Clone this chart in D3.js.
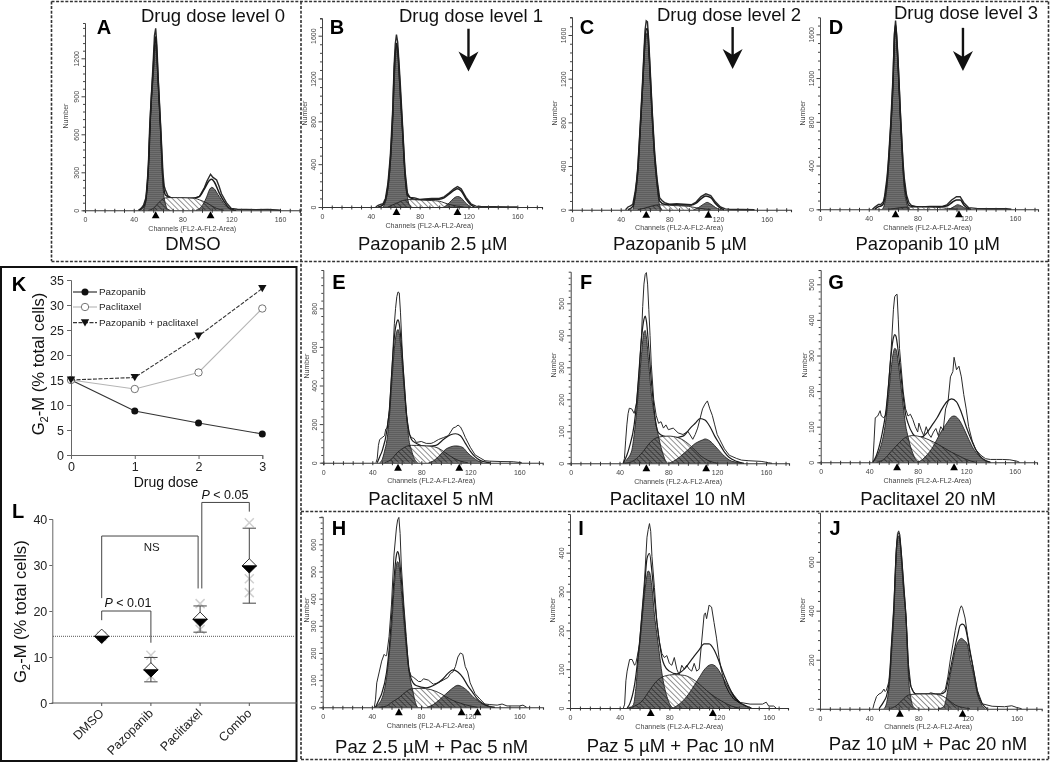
<!DOCTYPE html>
<html>
<head>
<meta charset="utf-8">
<script src="https://cdn.jsdelivr.net/npm/d3@7/dist/d3.min.js"></script>
<style>
html,body{margin:0;padding:0;background:#fff;}
svg{display:block;filter:blur(0.35px);}
text{font-family:"Liberation Sans",Arial,sans-serif;}
</style>
</head>
<body>
<svg id="fig" width="1050" height="762"></svg>
<script>
// ---------- flow cytometry histograms: [channel, number] ----------
const rawA=[[44,0],[46,15],[48,40],[50,100],[51,210],[52,360],[53,640],[54,830],[56,1180],[57,1380],[58,1436],[59,1300],[60,1060],[62,680],[64,290],[65,190],[66,160],[68,115],[72,90],[76,85],[80,95],[84,90],[90,95],[94,110],[98,180],[100,230],[103,285],[105,260],[108,240],[110,190],[112,130],[116,60],[120,15],[125,8],[140,5],[150,6],[158,2],[160,0]];
const modelA=[[44,0],[48,25],[50,90],[52,340],[54,810],[56,1120],[57,1290],[58,1370],[59,1230],[60,1030],[62,650],[64,240],[66,120],[70,100],[76,95],[84,95],[90,98],[94,110],[98,170],[102,235],[104,245],[106,225],[110,140],[114,70],[118,20],[122,3],[124,0]];
const g1A=[[47,0],[49,30],[50,80],[51,190],[52,330],[53,600],[54,780],[56,1060],[57,1200],[58,1310],[59,1180],[60,1000],[62,620],[64,190],[66,50],[68,8],[70,0]];
const sA=[[52,0],[56,15],[60,55],[64,90],[68,100],[76,100],[84,98],[90,95],[94,82],[100,58],[104,35],[108,15],[114,0]];
const g2A=[[91,0],[94,15],[97,50],[100,110],[102,160],[104,181],[106,170],[109,125],[112,80],[116,30],[120,5],[122,0]];

const rawB=[[44,0],[46,15],[48,25],[50,30],[52,80],[54,220],[56,480],[58,930],[59,1300],[60,1520],[61,1610],[62,1540],[64,1180],[66,760],[68,340],[70,130],[72,90],[76,85],[80,70],[84,75],[90,80],[96,80],[100,95],[104,130],[108,170],[111,190],[114,170],[118,90],[122,30],[126,8],[130,5],[140,3],[160,0]];
const modelB=[[46,0],[50,20],[52,65],[54,190],[56,440],[58,870],[59,1230],[60,1430],[61,1530],[62,1470],[64,1100],[66,720],[68,310],[70,110],[74,78],[80,65],[90,70],[96,72],[100,85],[104,120],[108,155],[111,170],[114,150],[118,75],[122,20],[125,0]];
const g1B=[[50,0],[52,50],[54,170],[56,400],[58,820],[60,1350],[61,1500],[62,1450],[64,1050],[66,680],[68,300],[70,90],[72,10],[73,0]];
const sB=[[54,0],[58,20],[62,40],[66,60],[72,70],[80,65],[90,60],[96,55],[100,40],[104,25],[110,10],[116,0]];
const g2B=[[100,0],[103,25],[106,60],[109,90],[111,98],[114,85],[117,45],[120,15],[122,0]];

const rawC=[[44,0],[46,25],[48,35],[50,50],[52,170],[53,260],[54,380],[56,760],[58,1180],[60,1640],[61,1730],[62,1720],[63,1560],[64,1340],[66,890],[68,510],[70,270],[72,110],[74,85],[76,65],[80,50],[86,55],[92,50],[98,45],[102,70],[106,120],[110,145],[114,130],[118,70],[122,25],[126,8],[130,3],[140,2],[150,0]];
const modelC=[[46,0],[50,30],[52,145],[53,235],[54,350],[56,730],[58,1130],[60,1560],[61,1650],[62,1660],[63,1510],[64,1290],[66,850],[68,480],[70,240],[72,80],[76,50],[84,45],[92,42],[98,42],[102,60],[106,100],[110,125],[114,110],[118,55],[122,15],[125,0]];
const g1C=[[50,0],[52,120],[53,210],[54,320],[56,700],[58,1100],[60,1500],[61,1600],[62,1620],[63,1480],[64,1250],[66,810],[68,450],[70,210],[72,40],[74,0]];
const sC=[[54,0],[60,15],[66,35],[72,45],[80,40],[90,35],[96,30],[102,18],[110,5],[114,0]];
const g2C=[[100,0],[104,20],[108,50],[111,67],[114,52],[118,20],[121,5],[123,0]];

const rawD=[[43,0],[45,20],[48,45],[50,45],[52,70],[53,120],[55,290],[56,420],[58,780],[60,1240],[61,1600],[62,1725],[63,1580],[64,1380],[66,880],[68,450],[69,300],[71,130],[73,60],[75,35],[80,20],[90,25],[100,25],[104,40],[108,85],[112,115],[115,115],[118,60],[122,15],[128,8],[140,5],[153,5],[157,0]];
const modelD=[[45,0],[48,25],[50,30],[52,50],[53,90],[55,250],[56,390],[58,740],[60,1200],[61,1560],[62,1690],[63,1550],[64,1350],[66,850],[68,420],[69,260],[71,100],[73,35],[76,25],[84,22],[96,22],[104,30],[108,60],[112,85],[115,85],[118,40],[122,5],[124,0]];
const g1D=[[51,0],[53,50],[55,210],[56,350],[58,700],[60,1150],[61,1520],[62,1650],[63,1500],[64,1300],[66,810],[68,380],[69,210],[71,60],[73,10],[74,0]];
const sD=[[56,0],[64,12],[72,20],[85,20],[95,18],[104,10],[112,0]];
const g2D=[[106,0],[110,25],[113,42],[116,30],[120,5],[122,0]];

const rawE=[[43,0],[44,20],[45,90],[46,120],[48,130],[50,140],[51,175],[52,180],[54,270],[56,480],[58,720],[59,800],[60,860],[61,885],[62,880],[63,780],[64,640],[65,510],[66,410],[68,240],[70,150],[72,130],[74,125],[76,105],[80,110],[84,100],[88,100],[90,105],[94,120],[98,130],[102,140],[106,180],[108,185],[110,195],[112,185],[114,160],[116,130],[120,80],[124,40],[128,25],[132,10],[136,8],[145,6],[155,5],[162,0]];
const modelE=[[44,0],[46,30],[48,60],[52,170],[54,280],[56,480],[58,650],[60,730],[61,740],[62,720],[64,590],[66,420],[68,250],[70,160],[72,120],[76,100],[84,85],[92,90],[98,120],[104,145],[108,150],[112,140],[116,100],[120,60],[124,30],[128,12],[132,4],[136,0]];
const g1E=[[46,0],[48,15],[50,60],[52,120],[54,240],[56,420],[58,590],[60,680],[61,690],[62,670],[64,540],[66,380],[68,240],[70,115],[72,65],[74,25],[76,5],[77,0]];
const sE=[[50,0],[56,20],[60,50],[64,70],[68,85],[72,90],[80,88],[88,85],[94,75],[100,50],[106,25],[112,8],[118,0]];
const g2E=[[86,0],[88,3],[92,20],[96,45],[100,70],[104,82],[108,87],[110,86],[114,78],[118,50],[122,28],[126,10],[130,0]];

const rawF=[[43,0],[44,15],[45,70],[46,120],[47,155],[48,172],[50,170],[52,156],[54,190],[56,280],[58,400],[59,490],[60,560],[61,590],[62,596],[63,560],[64,480],[65,400],[66,310],[68,200],[70,150],[72,125],[74,130],[76,110],[78,120],[80,105],[84,110],[88,95],[92,90],[96,100],[100,75],[102,90],[104,110],[106,140],[108,170],[110,185],[112,195],[114,170],[116,150],[118,120],[120,90],[122,75],[126,45],[130,25],[136,15],[140,10],[146,8],[156,6],[162,2],[165,0]];
const modelF=[[43,0],[46,25],[48,50],[52,120],[54,190],[56,290],[58,390],[60,450],[61,460],[62,445],[64,360],[66,260],[68,180],[70,120],[72,95],[76,85],[84,80],[92,85],[98,110],[102,125],[106,140],[110,135],[114,115],[118,85],[122,60],[126,35],[130,18],[136,6],[142,0]];
const g1F=[[43,0],[46,12],[50,40],[52,90],[54,160],[56,250],[58,340],[60,410],[61,415],[62,395],[64,310],[66,220],[68,165],[70,120],[72,83],[74,50],[76,25],[78,5],[79,0]];
const sF=[[44,0],[50,5],[54,15],[60,40],[64,60],[68,75],[72,82],[80,85],[88,80],[94,68],[100,48],[106,25],[112,10],[120,0]];
const g2F=[[80,0],[84,6],[90,22],[96,42],[102,62],[108,73],[110,76],[114,70],[118,55],[122,38],[126,22],[130,10],[136,3],[140,0]];

const rawG=[[43,0],[44,60],[45,125],[47,130],[49,145],[50,130],[52,125],[54,135],[56,220],[58,310],[60,430],[61,465],[62,470],[63,472],[64,400],[65,320],[66,280],[68,200],[70,150],[72,130],[74,135],[76,120],[78,100],[80,85],[81,110],[83,90],[85,75],[87,100],[89,80],[91,70],[93,85],[95,95],[97,75],[99,100],[101,90],[103,150],[105,170],[107,240],[109,255],[110,295],[112,260],[114,270],[116,240],[118,190],[120,150],[122,100],[125,60],[128,35],[132,20],[136,10],[140,8],[145,8],[150,8],[156,7],[162,3],[164,0]];
const modelG=[[43,0],[46,20],[50,70],[54,150],[56,220],[58,300],[60,350],[61,359],[62,355],[64,310],[66,250],[68,185],[70,135],[72,110],[76,80],[80,70],[84,72],[88,85],[92,105],[96,125],[100,150],[104,170],[108,178],[112,170],[116,140],[120,100],[124,65],[128,35],[132,15],[136,5],[140,0]];
const g1G=[[43,0],[46,15],[50,50],[52,80],[54,125],[56,190],[58,260],[60,310],[61,320],[62,318],[64,280],[66,220],[68,160],[70,105],[72,72],[74,45],[76,25],[78,10],[80,2],[81,0]];
const sG=[[46,0],[52,8],[58,30],[64,52],[70,70],[76,75],[84,70],[90,62],[96,52],[102,40],[108,28],[114,18],[120,8],[128,0]];
const g2G=[[80,0],[84,8],[88,22],[92,40],[96,65],[100,90],[104,110],[108,128],[110,130],[114,120],[118,95],[122,65],[126,38],[130,20],[134,8],[140,0]];

const rawH=[[42,0],[43,30],[44,90],[46,130],[48,170],[50,195],[51,190],[52,190],[54,260],[56,380],[58,560],[60,660],[61,690],[62,699],[63,640],[64,520],[66,380],[68,260],[70,140],[72,115],[74,110],[78,95],[80,95],[82,105],[86,100],[90,85],[94,90],[98,100],[102,110],[104,125],[106,130],[108,150],[110,185],[112,200],[114,195],[116,150],[118,130],[120,90],[124,50],[128,30],[132,12],[136,10],[142,8],[146,12],[150,5],[160,5],[163,8],[166,0]];
const modelH=[[43,0],[46,30],[48,50],[52,130],[54,210],[56,330],[58,470],[60,560],[61,573],[62,560],[64,470],[66,350],[68,240],[70,150],[72,105],[76,80],[84,72],[92,85],[98,105],[102,125],[106,138],[110,130],[114,110],[118,80],[122,55],[126,30],[130,15],[136,3],[140,0]];
const g1H=[[42,0],[46,15],[48,30],[50,60],[52,110],[54,190],[56,290],[58,430],[60,525],[61,536],[62,525],[64,430],[66,320],[68,220],[70,140],[72,85],[73,67],[75,25],[77,0]];
const sH=[[46,0],[52,5],[56,18],[62,35],[68,58],[72,68],[80,70],[88,65],[94,55],[100,40],[106,25],[112,15],[120,5],[126,0]];
const g2H=[[85,0],[90,10],[95,28],[100,48],[105,68],[110,81],[114,74],[118,60],[122,40],[126,25],[130,12],[136,3],[140,0]];

const rawI=[[43,0],[44,10],[45,70],[46,95],[48,125],[50,125],[52,110],[53,115],[54,130],[56,165],[58,250],[60,330],[62,440],[63,460],[64,475],[65,455],[66,390],[68,310],[70,220],[72,170],[74,140],[76,130],[78,135],[80,115],[82,110],[84,130],[86,100],[88,85],[90,110],[92,100],[94,110],[96,100],[98,95],[100,115],[102,95],[104,100],[106,170],[108,240],[109,245],[110,230],[112,265],[114,260],[116,220],[118,180],[120,130],[122,95],[125,60],[128,40],[132,22],[136,15],[145,10],[155,10],[158,15],[160,5],[164,5],[166,0]];
const modelI=[[46,0],[48,10],[52,60],[56,170],[58,240],[60,310],[62,385],[64,398],[66,350],[68,280],[70,220],[72,170],[74,130],[76,110],[80,95],[86,88],[92,100],[98,125],[104,150],[108,165],[112,165],[116,150],[120,120],[124,85],[128,55],[132,30],[136,15],[140,8],[146,0]];
const g1I=[[48,0],[51,8],[53,50],[55,130],[57,190],[59,260],[61,320],[63,353],[64,350],[66,310],[68,240],[70,190],[72,140],[74,90],[76,55],[78,30],[80,12],[83,0]];
const sI=[[46,0],[52,5],[58,18],[64,45],[70,70],[76,82],[84,86],[92,84],[98,76],[104,62],[110,45],[116,30],[122,18],[130,5],[136,0]];
const g2I=[[83,0],[88,10],[92,22],[96,38],[100,58],[104,78],[108,98],[112,110],[114,112],[118,105],[122,85],[126,62],[130,42],[134,25],[138,12],[142,4],[146,0]];

const rawJ=[[43,0],[44,20],[46,50],[48,60],[50,65],[52,80],[53,70],[54,75],[56,110],[57,170],[58,260],[60,420],[62,650],[63,715],[64,726],[65,710],[66,650],[68,520],[70,380],[72,180],[74,90],[76,70],[78,60],[82,60],[88,60],[90,65],[94,60],[98,60],[100,70],[102,80],[104,130],[106,200],[108,260],[110,320],[112,370],[114,410],[115,420],[116,410],[118,370],[120,300],[122,240],[124,185],[126,130],[128,75],[132,20],[140,10],[150,8],[156,12],[160,5],[164,0]];
const modelJ=[[48,0],[52,30],[54,50],[56,100],[57,150],[58,240],[60,400],[62,640],[64,718],[66,640],[68,500],[70,370],[72,160],[74,90],[78,60],[90,60],[98,60],[102,70],[104,110],[108,210],[112,300],[114,340],[116,345],[118,335],[120,290],[122,230],[124,180],[126,125],[128,70],[132,20],[136,0]];
const g1J=[[52,0],[54,20],[56,80],[57,130],[58,210],[60,370],[62,620],[63,690],[64,705],[65,690],[66,620],[68,480],[70,360],[72,130],[74,40],[76,8],[78,0]];
const sJ=[[56,0],[62,12],[66,30],[70,50],[74,58],[82,60],[92,60],[98,55],[102,45],[106,30],[110,15],[116,5],[122,0]];
const g2J=[[96,0],[100,5],[102,25],[104,80],[106,140],[108,190],[110,240],[112,270],[114,285],[115,287],[117,280],[120,260],[122,200],[124,160],[126,110],[128,60],[131,20],[134,0]];

const panelLetters=["A","B","C","D","E","F","G","H","I","J"];
const rawSeries=[rawA,rawB,rawC,rawD,rawE,rawF,rawG,rawH,rawI,rawJ];
const modelSeries=[modelA,modelB,modelC,modelD,modelE,modelF,modelG,modelH,modelI,modelJ];
const g1Series=[g1A,g1B,g1C,g1D,g1E,g1F,g1G,g1H,g1I,g1J];
const sSeries=[sA,sB,sC,sD,sE,sF,sG,sH,sI,sJ];
const g2Series=[g2A,g2B,g2C,g2D,g2E,g2F,g2G,g2H,g2I,g2J];
const peakMarkers=[[58,103],[61,111],[61,112],[62,114],[61,111],[62,111],[63,110],[62,113,126],[65,115],[65,116]];
const yLabelStep=[300,400,400,400,200,100,100,100,100,200];
const yTopLabel=[1200,1600,1600,1600,800,500,500,600,400,600];
const subtitles=["DMSO","Pazopanib 2.5 µM","Pazopanib 5 µM","Pazopanib 10 µM","Paclitaxel 5 nM","Paclitaxel 10 nM","Paclitaxel 20 nM","Paz 2.5 µM + Pac 5 nM","Paz 5 µM + Pac 10 nM","Paz 10 µM + Pac 20 nM"];
const doseTitles=["Drug dose level 0","Drug dose level 1","Drug dose level 2","Drug dose level 3"];
const xTickLabels=[0,40,80,120,160];
// arrows: panel index, channel, tail number, tip number
const arrowPanels=[1,2,3];
const arrowChannels=[120,132,117.3];
const arrowTails=[1665,1673,1659];
const arrowTips=[1265,1288,1265];

// ---------- panel K ----------
const doseLevels=[0,1,2,3];
const kPazopanib=[15,8.8,6.4,4.2];
const kPaclitaxel=[15,13.2,16.5,29.3];
const kCombo=[15,15.5,23.8,33.3];
const kLegend=["Pazopanib","Paclitaxel","Pazopanib + paclitaxel"];
const kYTicks=[0,5,10,15,20,25,30,35];

// ---------- panel L ----------
const lCategories=["DMSO","Pazopanib","Paclitaxel","Combo"];
const lMeans=[14.5,7.2,18.2,29.8];
const lLow=[14.5,4.6,15.4,21.7];
const lHigh=[14.5,9.9,21.1,38];
const lCrosses=[[14.5],[10.4,5.8],[21.6,16],[39.2,27,24],];
const lReference=14.5;
const lYTicks=[0,10,20,30,40];

// ---------- layout only (pixels) ----------
const layout=[
 {x0:85,x160:280,xEnd:300,base:210.3,vRef:1200,yRef:58.3,top:23,nx:66,ny:116,subx:193,suby:243,lx:104,ly:27},
 {x0:322,x160:517.3,xEnd:542,base:207,vRef:1600,yRef:35.7,top:18,nx:305,ny:113,subx:432.7,suby:243,lx:337,ly:27},
 {x0:572,x160:766.7,xEnd:791,base:209.7,vRef:1600,yRef:35,top:17,nx:555,ny:113,subx:680,suby:243,lx:587,ly:27},
 {x0:820,x160:1015,xEnd:1038,base:209.3,vRef:1600,yRef:34.3,top:17.3,nx:803,ny:113,subx:927.7,suby:243,lx:836,ly:27},
 {x0:323.3,x160:519.3,xEnd:542.7,base:462.7,vRef:800,yRef:308.3,top:270,nx:307,ny:366,subx:431,suby:498,lx:339,ly:282},
 {x0:570.7,x160:766,xEnd:789,base:463.3,vRef:500,yRef:303.3,top:271.7,nx:554,ny:365,subx:677.7,suby:498,lx:586,ly:282},
 {x0:820.7,x160:1014.7,xEnd:1037,base:462.3,vRef:500,yRef:284.3,top:270,nx:805,ny:365,subx:928,suby:498,lx:836,ly:282},
 {x0:322.7,x160:519.3,xEnd:543,base:707.3,vRef:600,yRef:544.3,top:516.7,nx:307,ny:610,subx:431.7,suby:746,lx:339,ly:528},
 {x0:570,x160:768.7,xEnd:788,base:708,vRef:400,yRef:552.7,top:514,nx:553,ny:610,subx:680.7,suby:745,lx:581,ly:528},
 {x0:820,x160:1016.7,xEnd:1041.7,base:708.7,vRef:600,yRef:561.7,top:512.7,nx:803,ny:610,subx:928,suby:743,lx:835,ly:528}
];
const titlePos=[[213,15],[471,15],[729,14.7],[966,12.7]];

const svg=d3.select("#fig");
const defs=svg.append("defs");
const hatch=defs.append("pattern").attr("id","hatch").attr("patternUnits","userSpaceOnUse")
  .attr("width",3.8).attr("height",3.8).attr("patternTransform","rotate(-45)");
hatch.append("rect").attr("width",3.8).attr("height",3.8).attr("fill","#fff");
hatch.append("line").attr("x1",0).attr("y1",0).attr("x2",0).attr("y2",3.8).attr("stroke","#707070").attr("stroke-width",1.5);
const scan=defs.append("pattern").attr("id","scan").attr("patternUnits","userSpaceOnUse").attr("width",4).attr("height",2);
scan.append("rect").attr("width",4).attr("height",2).attr("fill","#707070");
scan.append("rect").attr("width",4).attr("height",1).attr("fill","#5e5e5e");

// dashed frames
const frameColor="#333";
const frames=[[51.5,1.5,1048.5,1.5],[51.5,1.5,51.5,261],[51.5,261.5,1048.5,261.5],[301,1.5,301,760],[301,511.5,1048.5,511.5],[301,759.5,1048.5,759.5],[1048.5,1.5,1048.5,760]];
svg.append("g").selectAll("line").data(frames).join("line")
  .attr("x1",d=>d[0]).attr("y1",d=>d[1]).attr("x2",d=>d[2]).attr("y2",d=>d[3])
  .attr("stroke",frameColor).attr("stroke-width",1.6).attr("stroke-dasharray","3 1.6");
svg.append("rect").attr("x",1).attr("y",267).attr("width",295.5).attr("height",494).attr("fill","none").attr("stroke","#111").attr("stroke-width",2);

const smooth=d3.curveMonotoneX;
layout.forEach((p,i)=>{
  const g=svg.append("g");
  const maxCh=160*(p.xEnd-p.x0)/(p.x160-p.x0);
  const x=d3.scaleLinear().domain([0,maxCh]).range([p.x0,p.xEnd]);
  const perPx=p.vRef/(p.base-p.yRef);
  const maxV=(p.base-p.top)*perPx;
  const y=d3.scaleLinear().domain([0,maxV]).range([p.base,p.top]);
  const area=d3.area().x(d=>x(d[0])).y0(y(0)).y1(d=>y(d[1])).curve(smooth);
  const line=d3.line().x(d=>x(d[0])).y(d=>y(d[1])).curve(smooth);
  const raw=d3.line().x(d=>x(d[0])).y(d=>y(d[1]));

  g.append("path").attr("d",raw(rawSeries[i])).attr("fill","none").attr("stroke","#2a2a2a").attr("stroke-width",i<4?1.4:1);
  g.append("path").attr("d",line(modelSeries[i])).attr("fill","none").attr("stroke","#1c1c1c").attr("stroke-width",i<4?1.5:1.2);
  g.append("path").attr("d",area(sSeries[i])).attr("fill","url(#hatch)");
  [g1Series[i],g2Series[i]].forEach(s=>{
    g.append("path").attr("d",area(s)).attr("fill","url(#scan)").style("mix-blend-mode","multiply");
    g.append("path").attr("d",line(s)).attr("fill","none").attr("stroke","#222").attr("stroke-width",0.9);
  });
  g.append("path").attr("d",line(sSeries[i])).attr("fill","none").attr("stroke","#222").attr("stroke-width",0.9);

  // x axis
  const xMinor=d3.range(0,maxCh,8);
  const xAx=d3.axisBottom(x).tickValues(xMinor).tickSize(2.5).tickPadding(4.5)
    .tickFormat(d=>xTickLabels.includes(d)?d:"");
  const gx=g.append("g").attr("transform",`translate(0,${p.base})`).call(xAx);
  gx.selectAll("line").attr("y1",-1.5).attr("stroke","#333");
  gx.select(".domain").attr("stroke","#333").attr("stroke-width",1.1);
  gx.selectAll("text").attr("font-size",7).attr("fill","#444").style("font-family",'"Liberation Sans"');
  // y axis
  const yStep=yLabelStep[i];
  const yMinor=d3.range(0,maxV,yStep/5);
  const isMajor=d=>Math.abs(d%yStep)<1e-6;
  const yAx=d3.axisLeft(y).tickValues(yMinor).tickSize(2).tickPadding(3).tickFormat(d=>(isMajor(d)&&d<=yTopLabel[i])?d:"");
  const gy=g.append("g").attr("transform",`translate(${p.x0},0)`).call(yAx);
  gy.selectAll("line").attr("stroke","#444");
  gy.selectAll(".tick").filter(isMajor).select("line").attr("x2",-3.5);
  gy.select(".domain").attr("stroke","#444");
  gy.selectAll("text").attr("font-size",7).attr("fill","#444").style("font-family",'"Liberation Sans"')
    .attr("text-anchor","middle").attr("dy",0).attr("x",0)
    .attr("transform","translate(-6.5,0) rotate(-90)");
  // peak markers
  g.selectAll(".pk").data(peakMarkers[i]).join("path").attr("class","pk")
    .attr("transform",d=>`translate(${x(d)},${p.base})`).attr("d","M0,1L3.9,8L-3.9,8Z").attr("fill","#000");
  // labels
  g.append("text").attr("x",x(88)).attr("y",p.base+20.5).attr("text-anchor","middle").attr("font-size",7.1).attr("fill","#444").text("Channels (FL2-A-FL2-Area)");
  g.append("text").attr("transform",`translate(${p.nx},${p.ny}) rotate(-90)`).attr("text-anchor","middle").attr("dy","0.35em").attr("font-size",7).attr("fill","#444").text("Number");
  g.append("text").attr("x",p.subx).attr("y",p.suby).attr("dy","0.36em").attr("text-anchor","middle").attr("font-size",18.5).attr("fill","#111").text(subtitles[i]);
  g.append("text").attr("x",p.lx).attr("y",p.ly).attr("dy","0.36em").attr("text-anchor","middle").attr("font-size",20).attr("font-weight","bold").attr("fill","#000").text(panelLetters[i]);
  // arrow
  const ai=arrowPanels.indexOf(i);
  if(ai>=0){
    const ax=x(arrowChannels[ai]),t=y(arrowTails[ai]),tip=y(arrowTips[ai]);
    g.append("line").attr("x1",ax).attr("x2",ax).attr("y1",t).attr("y2",tip-10).attr("stroke","#111").attr("stroke-width",2.4);
    g.append("path").attr("transform",`translate(${ax},${tip})`).attr("d","M0,0L-10,-20L0,-14L10,-20Z").attr("fill","#111");
  }
});
doseTitles.forEach((t,i)=>{
  svg.append("text").attr("x",titlePos[i][0]).attr("y",titlePos[i][1]).attr("dy","0.36em").attr("text-anchor","middle").attr("font-size",18.5).attr("fill","#111").text(t);
});

function gmLabel(cx,cy,size){
  const t=svg.append("text").attr("transform",`translate(${cx},${cy}) rotate(-90)`).attr("text-anchor","middle").attr("font-size",size).attr("fill","#111");
  t.append("tspan").text("G");
  t.append("tspan").attr("dy",size*0.25).attr("font-size",size*0.68).text("2");
  t.append("tspan").attr("dy",-size*0.25).text("-M (% total cells)");
}

// ---------- K ----------
const kx=d3.scaleLinear().domain([0,3]).range([71,262.3]);
const ky=d3.scaleLinear().domain([0,35]).range([455,280]);
const kg=svg.append("g");
const kax=kg.append("g").attr("transform","translate(0,455)").call(d3.axisBottom(kx).tickValues(doseLevels).tickSize(4).tickPadding(3).tickFormat(d3.format("d")));
const kay=kg.append("g").attr("transform","translate(71,0)").call(d3.axisLeft(ky).tickValues(kYTicks).tickSize(4).tickPadding(3));
[kax,kay].forEach(a=>{a.selectAll("text").attr("font-size",12.5).attr("fill","#222").style("font-family",'"Liberation Sans"');a.selectAll("line,.domain").attr("stroke","#666");});
const kLine=d3.line().x((d,i)=>kx(doseLevels[i])).y(d=>ky(d));
const kStyles=[{c:"#333",w:1.2,dash:null},{c:"#b5b5b5",w:1.1,dash:null},{c:"#333",w:1.1,dash:"4 1.5"}];
function kMarker(sel,idx){
  if(idx===0) sel.append("circle").attr("r",3.5).attr("fill","#111");
  if(idx===1) sel.append("circle").attr("r",3.7).attr("fill","#fff").attr("stroke","#666").attr("stroke-width",0.9);
  if(idx===2) sel.append("path").attr("d","M-4.2,-3.4L4.2,-3.4L0,3.8Z").attr("fill","#111");
}
[kPazopanib,kPaclitaxel,kCombo].forEach((s,idx)=>{
  const st=kStyles[idx];
  kg.append("path").attr("d",kLine(s)).attr("fill","none").attr("stroke",st.c).attr("stroke-width",st.w).attr("stroke-dasharray",st.dash);
  s.forEach((v,i)=>kMarker(kg.append("g").attr("transform",`translate(${kx(doseLevels[i])},${ky(v)})`),idx));
});
kLegend.forEach((t,idx)=>{
  const ly=[292,307,322.6][idx],st=kStyles[idx];
  kg.append("line").attr("x1",73).attr("x2",97).attr("y1",ly).attr("y2",ly).attr("stroke",st.c).attr("stroke-width",st.w).attr("stroke-dasharray",st.dash);
  kMarker(kg.append("g").attr("transform",`translate(85,${ly})`),idx);
  kg.append("text").attr("x",99).attr("y",ly).attr("dy","0.35em").attr("font-size",9.9).attr("fill","#222").text(t);
});
gmLabel(44,364,16.6);
svg.append("text").attr("x",166).attr("y",482).attr("dy","0.36em").attr("text-anchor","middle").attr("font-size",14).attr("fill","#111").text("Drug dose");

// ---------- L ----------
const lx=d3.scalePoint().domain(lCategories).range([101.7,249.3]);
const ly=d3.scaleLinear().domain([0,40]).range([703,519]);
const lg=svg.append("g");
const lay=lg.append("g").attr("transform","translate(52.3,0)").call(d3.axisLeft(ly).tickValues(lYTicks).tickSize(3).tickPadding(2));
lay.selectAll("text").attr("font-size",12.5).attr("fill","#222").style("font-family",'"Liberation Sans"');
lay.selectAll("line,.domain").attr("stroke","#666");
lg.append("line").attr("x1",51.5).attr("x2",297).attr("y1",ly(0)).attr("y2",ly(0)).attr("stroke","#555").attr("stroke-width",1);
lCategories.forEach(c=>{
  lg.append("line").attr("x1",lx(c)).attr("x2",lx(c)).attr("y1",ly(0)).attr("y2",ly(0)+3).attr("stroke","#555");
  lg.append("text").attr("transform",`translate(${lx(c)+3},${ly(0)+11}) rotate(-45)`).attr("text-anchor","end").attr("font-size",12.5).attr("fill","#222").text(c);
});
lg.append("line").attr("x1",53).attr("x2",295).attr("y1",ly(lReference)).attr("y2",ly(lReference)).attr("stroke","#555").attr("stroke-width",1).attr("stroke-dasharray","1 1");
lCategories.forEach((c,i)=>{
  const cx=lx(c);
  lCrosses[i].forEach(v=>lg.append("path").attr("transform",`translate(${cx},${ly(v)})`).attr("d","M-4.5,-4.5L4.5,4.5M-4.5,4.5L4.5,-4.5").attr("stroke","#d0d0d0").attr("stroke-width",1.5).attr("fill","none"));
  if(lHigh[i]>lLow[i]){
    lg.append("line").attr("x1",cx).attr("x2",cx).attr("y1",ly(lLow[i])).attr("y2",ly(lHigh[i])).attr("stroke","#444").attr("stroke-width",1);
    [lLow[i],lHigh[i]].forEach(v=>lg.append("line").attr("x1",cx-6.7).attr("x2",cx+6.7).attr("y1",ly(v)).attr("y2",ly(v)).attr("stroke","#444").attr("stroke-width",1));
  }
  const dg=lg.append("g").attr("transform",`translate(${cx},${ly(lMeans[i])})`);
  dg.append("path").attr("d","M-7.2,0L0,-7.2L7.2,0Z").attr("fill","#fff").attr("stroke","#222").attr("stroke-width",0.9);
  dg.append("path").attr("d","M-7.2,0L0,7.2L7.2,0Z").attr("fill","#000").attr("stroke","#000").attr("stroke-width",0.9);
});
const bracket=d3.line().x(d=>d[0]).y(d=>ly(d[1]));
const xD=lx("DMSO"),xP=lx("Pazopanib"),xT=lx("Paclitaxel"),xC=lx("Combo");
[[[xD,18],[xD,20],[xP,20],[xP,13.1]],
 [[xD,22.8],[xD,36.3],[xT-2,36.3],[xT-2,24.9]],
 [[xT+1.7,24.9],[xT+1.7,43.6],[xC,43.6],[xC,41.6]]].forEach(b=>{
  lg.append("path").attr("d",bracket(b)).attr("fill","none").attr("stroke","#444").attr("stroke-width",1);
});
[[128,602.7,"0.01"],[225,494,"0.05"]].forEach(d=>{
  const t=lg.append("text").attr("x",d[0]).attr("y",d[1]).attr("dy","0.36em").attr("text-anchor","middle").attr("font-size",12.5).attr("fill","#111");
  t.append("tspan").attr("font-style","italic").text("P");
  t.append("tspan").text(" < "+d[2]);
});
lg.append("text").attr("x",151.7).attr("y",546.7).attr("dy","0.36em").attr("text-anchor","middle").attr("font-size",11.5).attr("fill","#222").text("NS");
gmLabel(26,611.7,16.6);

// panel letters K and L
[["K",19,284],["L",18,511]].forEach(d=>{
  svg.append("text").attr("x",d[1]).attr("y",d[2]).attr("dy","0.36em").attr("text-anchor","middle").attr("font-size",20).attr("font-weight","bold").attr("fill","#000").text(d[0]);
});
</script>
</body>
</html>
